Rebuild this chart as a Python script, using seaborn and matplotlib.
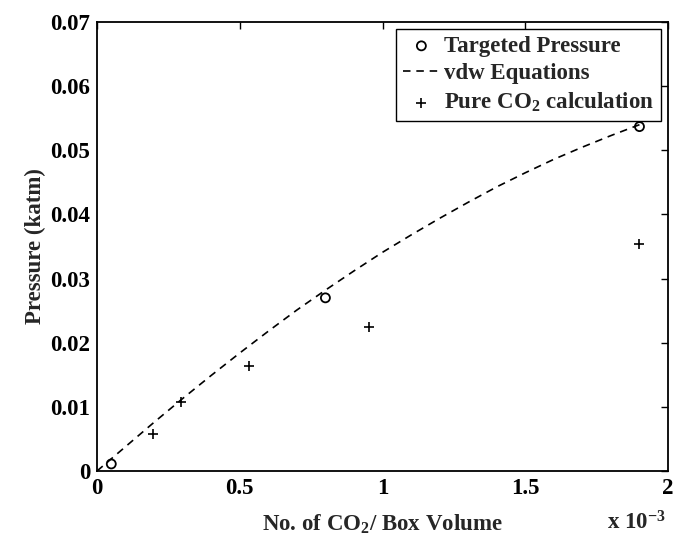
import matplotlib
matplotlib.use("Agg")
import matplotlib.pyplot as plt
import seaborn as sns
import pandas as pd

# Data (x in units of 1e-3)
target_x = [0.05, 0.80, 1.90]
target_p = [0.0011, 0.0270, 0.0537]

vdw_x = [0.0, 0.1, 0.2, 0.3, 0.4, 0.5, 0.6, 0.7, 0.8, 0.9, 1.0, 1.1, 1.2, 1.3, 1.4, 1.5, 1.6, 1.7, 1.8, 1.9]
vdw_p = [0.0, 0.0038, 0.0076, 0.0113, 0.0149, 0.0184, 0.0218, 0.0251, 0.0282, 0.0312, 0.0341, 0.0368,
         0.0394, 0.0419, 0.0443, 0.0465, 0.0486, 0.0505, 0.0523, 0.0540]

pure_x = [0.197, 0.293, 0.534, 0.954, 1.898]
pure_p = [0.0058, 0.0108, 0.0163, 0.0224, 0.0354]

xticks = [0, 0.5, 1, 1.5, 2]
xticklabels = ["0", "0.5", "1", "1.5", "2"]
yticks = [0, 0.01, 0.02, 0.03, 0.04, 0.05, 0.06, 0.07]
yticklabels = ["0", "0.01", "0.02", "0.03", "0.04", "0.05", "0.06", "0.07"]

sns.set_theme(style="white")
plt.rcParams['font.family'] = ['Liberation Serif', 'DejaVu Serif']
plt.rcParams['font.weight'] = 'bold'
plt.rcParams['mathtext.fontset'] = 'custom'
plt.rcParams['mathtext.rm'] = 'Liberation Serif:bold'
plt.rcParams['mathtext.bf'] = 'Liberation Serif:bold'
plt.rcParams['mathtext.it'] = 'Liberation Serif:bold'
plt.rcParams['mathtext.default'] = 'bf'

FS = 16.5

fig = plt.figure(figsize=(6.76, 5.37), dpi=100)
ax = fig.add_axes([0.1435, 0.1229, 0.8447, 0.836])

df_t = pd.DataFrame({"x": target_x, "p": target_p})
df_v = pd.DataFrame({"x": vdw_x, "p": vdw_p})
df_p = pd.DataFrame({"x": pure_x, "p": pure_p})

sns.scatterplot(data=df_t, x="x", y="p", ax=ax, marker="o", s=42, facecolor="none",
                edgecolor="black", linewidth=1.3, label="Targeted Pressure", zorder=3)
sns.lineplot(data=df_v, x="x", y="p", ax=ax, color="black", linewidth=1.2,
             label="vdw Equations", zorder=2)
ax.lines[-1].set_dashes([4.5, 3.5])
sns.scatterplot(data=df_p, x="x", y="p", ax=ax, marker="+", s=55, color="black",
                linewidth=1.2, label="Pure CO$_2$ calculation", zorder=3)

ax.set_xlim(0, 2)
ax.set_ylim(0, 0.07)
ax.set_xticks(xticks)
ax.set_xticklabels(xticklabels)
ax.set_yticks(yticks)
ax.set_yticklabels(yticklabels)
ax.tick_params(direction="in", length=5, width=1, top=True, right=True,
               labelsize=FS, colors="black", pad=5)
for lab in ax.get_xticklabels() + ax.get_yticklabels():
    lab.set_fontweight("bold")
for s in ax.spines.values():
    s.set_color("black")
    s.set_linewidth(1.3)

ax.set_xlabel("No. of CO$_2$/ Box Volume", fontsize=FS, fontweight="bold", labelpad=10)
ax.set_ylabel("Pressure (katm)", fontsize=FS, fontweight="bold", labelpad=3)
fig.text(0.898, 0.004, r"x 10$^{-3}$", fontsize=FS, fontweight="bold", ha="left", va="bottom")

leg = ax.legend(loc="upper right", fontsize=FS, frameon=True, fancybox=False, framealpha=1,
                borderaxespad=0.3, handlelength=1.6, handletextpad=0.2, labelspacing=0.28,
                borderpad=0.3)
leg.get_frame().set_edgecolor("black")
leg.get_frame().set_linewidth(1.0)
for t in leg.get_texts():
    t.set_fontweight("bold")

fig.savefig("out.png", dpi=100)
